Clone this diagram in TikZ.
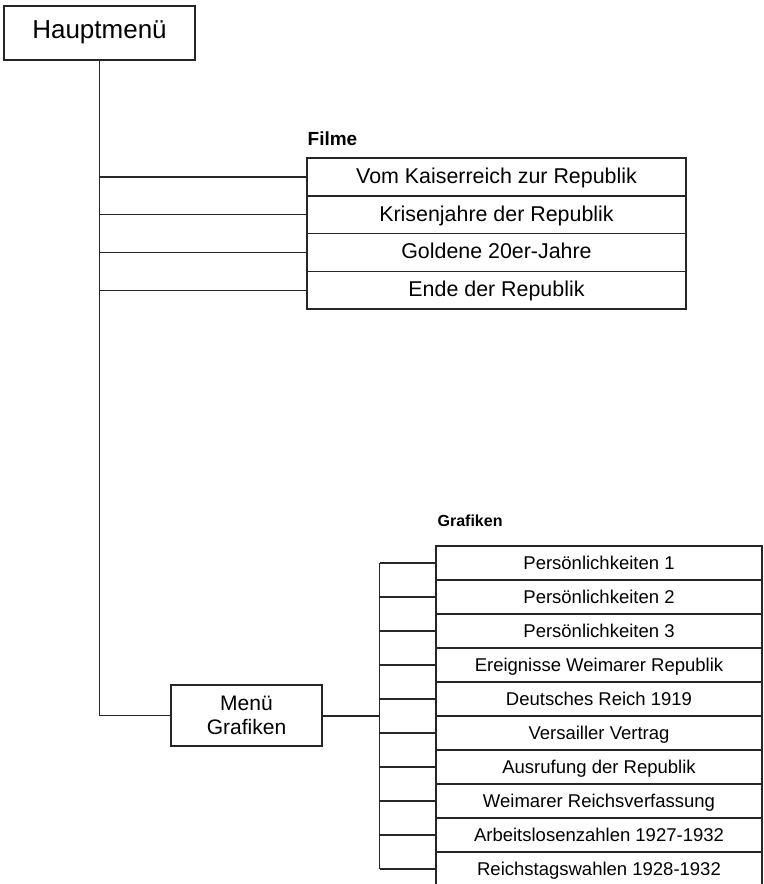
\documentclass[tikz,border=0pt]{standalone}
\usepackage{fontspec}
\setmainfont{Liberation Sans}
\usetikzlibrary{positioning}

\tikzset{
  menubox/.style={draw=black!85, line width=0.75pt, inner sep=0pt, align=center},
  filmbox/.style={menubox, minimum width=189.5pt, minimum height=18.875pt,
    text height=0.8em, text depth=0.16em, font=\fontsize{10.7}{12}\selectfont},
  grafbox/.style={menubox, minimum width=163pt, minimum height=17pt,
    text height=0.8em, text depth=0.16em, font=\fontsize{9.25}{11}\selectfont},
  grouptitle/.style={inner sep=0pt, font=\bfseries},
  link/.style={draw=black!85, line width=0.6pt},
}

\begin{document}
\begin{tikzpicture}[x=0.5pt,y=-0.5pt]
  \useasboundingbox (0,0) rectangle (764,884);
  \clip (0,0) rectangle (764,884);

  % main menu
  \node[menubox, line width=1pt, minimum width=95.5pt, minimum height=27pt,
        text height=0.76em, text depth=0.2em,
        font=\fontsize{13}{15}\selectfont] (haupt) at (99.5,33) {Hauptmenü};

  % films
  \foreach \t [count=\i] in {Vom Kaiserreich zur Republik, Krisenjahre der Republik,
      Goldene 20er-Jahre, Ende der Republik}
    \node[filmbox] (film\i) at (496.5,{139.25+37.75*\i}) {\t};
  \node[grouptitle, font=\fontsize{9.5}{11}\selectfont\bfseries,
        above right=5.5pt and 0.5pt of film1.north west] (filmtitle) {Filme};

  % submenu
  \node[menubox, minimum width=75.5pt, minimum height=30.5pt,
        font=\fontsize{10.5}{11.75}\selectfont] (menu) at (246.5,715.5) {Menü\\Grafiken};

  % graphics
  \foreach \t [count=\i] in {Persönlichkeiten 1, Persönlichkeiten 2, Persönlichkeiten 3,
      Ereignisse Weimarer Republik, Deutsches Reich 1919, Versailler Vertrag,
      Ausrufung der Republik, Weimarer Reichsverfassung,
      Arbeitslosenzahlen 1927-1932, Reichstagswahlen 1928-1932}
    \node[grafbox] (graf\i) at (599,{529+34*\i}) {\t};
  \node[grouptitle, font=\fontsize{8}{9}\selectfont\bfseries,
        above right=9pt and 1pt of graf1.north west] (graftitle) {Grafiken};

  % trunk and branches
  \draw[link] (haupt.south) |- (menu.west);
  \foreach \i in {1,...,4}
    \draw[link] (haupt.south |- film\i.west) -- (film\i.west);

  % bracket
  \coordinate[right=28.5pt of menu.east] (brk);
  \draw[black!85, line width=1pt] (menu.east) -- (brk);
  \draw[link] (brk |- graf1.west) -- (brk |- graf10.west);
  \foreach \i in {1,...,10}
    \draw[link] (brk |- graf\i.west) -- (graf\i.west);
\end{tikzpicture}
\end{document}
